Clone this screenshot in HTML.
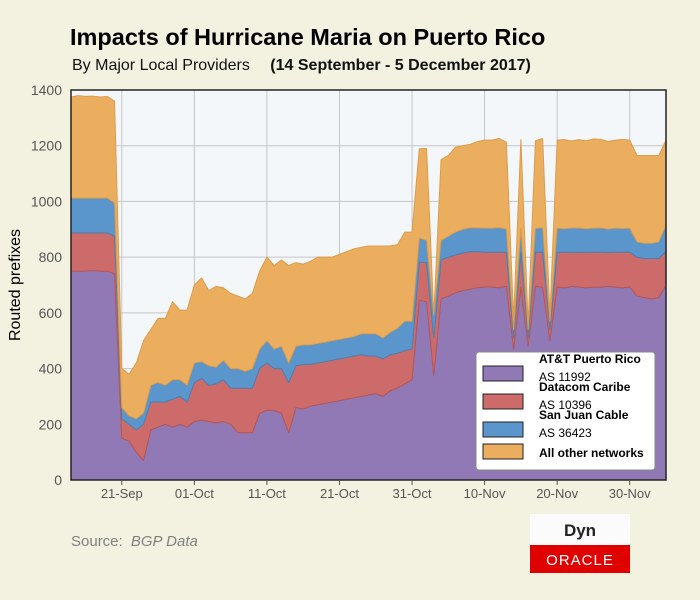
<!DOCTYPE html>
<html><head><meta charset="utf-8">
<style>
body{margin:0;background:#f3f1e0;}
#wrap{position:relative;width:700px;height:600px;background:#f3f1e0;font-family:"Liberation Sans",sans-serif;overflow:hidden}
svg text{font-family:"Liberation Sans",sans-serif}
</style></head>
<body>
<div id="wrap">
<svg id="chart" width="700" height="600">
<text x="70" y="45" font-size="23.5" font-weight="bold" fill="#000">Impacts of Hurricane Maria on Puerto Rico</text>
<text x="72" y="70" font-size="16" fill="#111">By Major Local Providers <tspan dx="16" font-weight="bold">(14 September - 5 December 2017)</tspan></text>
<rect x="71" y="90" width="595" height="390" fill="#f3f7fa"/>
<g id="grid"></g>
<g id="areas"></g>
<rect x="71" y="90" width="595" height="390" fill="none" stroke="#222" stroke-width="1.5"/>
<g id="yticks"></g>
<g id="xticks"></g>
<text transform="translate(20,285) rotate(-90)" text-anchor="middle" font-size="16" fill="#000">Routed prefixes</text>
<g>
<rect x="476" y="352" width="179" height="118" rx="3" fill="#fff" stroke="#888"/>
<g>
<rect x="483" y="366" width="40" height="15" fill="#9179b5" stroke="#222"/>
<text x="539" y="363" font-size="12" font-weight="bold">AT&amp;T Puerto Rico</text>
<text x="539" y="381" font-size="12">AS 11992</text></g>
<g>
<rect x="483" y="394" width="40" height="15" fill="#cd6b6b" stroke="#222"/>
<text x="539" y="391" font-size="12" font-weight="bold">Datacom Caribe</text>
<text x="539" y="409" font-size="12">AS 10396</text></g>
<g>
<rect x="483" y="422" width="40" height="15" fill="#5a96cb" stroke="#222"/>
<text x="539" y="419" font-size="12" font-weight="bold">San Juan Cable</text>
<text x="539" y="437" font-size="12">AS 36423</text></g>
<g>
<rect x="483" y="444" width="40" height="15" fill="#ebae5e" stroke="#222"/>
<text x="539" y="457" font-size="12" font-weight="bold">All other networks</text></g>
</g>
<text x="71" y="546" font-size="15" fill="#808080">Source: <tspan dx="4" font-style="italic">BGP Data</tspan></text>
<g>
<rect x="530" y="514" width="100" height="31" fill="#fbfbfb"/>
<text x="580" y="536" font-size="17" font-weight="bold" text-anchor="middle" fill="#222">Dyn</text>
<rect x="530" y="545" width="100" height="28" fill="#e00000"/>
<text x="580" y="565" font-size="15" text-anchor="middle" fill="#fff" letter-spacing="1">ORACLE</text>
</g>
</svg>
</div>
<script>
// daily values, day 0 = 14 Sep 2017
const att = [750,750,750,752,750,750,740,150,140,100,70,180,190,200,190,200,190,210,215,210,205,210,200,170,170,170,240,250,250,240,170,260,255,265,270,275,280,285,290,295,300,305,310,300,320,330,345,360,645,640,376,650,660,673,680,685,690,693,693,690,695,470,693,480,695,692,500,693,690,695,693,690,693,692,695,693,690,693,660,655,650,655,700];
const datacom = [137,137,137,135,137,137,135,70,60,80,130,100,90,80,100,100,90,140,150,130,140,150,130,160,160,160,160,170,150,160,180,150,160,150,150,150,150,150,150,150,150,140,135,135,130,125,120,110,137,140,134,140,140,135,135,135,130,125,125,128,122,40,125,30,123,126,40,125,128,122,125,127,125,126,122,125,128,125,140,140,145,140,120];
const sjc = [125,125,125,125,125,125,120,40,30,40,40,60,70,60,70,60,60,70,60,70,60,70,70,70,60,70,70,80,70,80,70,70,70,70,70,70,70,70,70,70,75,80,80,75,80,90,105,100,87,80,82,70,75,82,85,85,85,86,86,88,84,30,86,30,85,88,30,86,84,88,86,85,86,87,84,86,85,86,55,55,55,60,95];
const other = [363,368,365,366,363,365,365,140,150,200,260,200,230,240,280,250,270,280,300,270,290,260,270,260,260,270,280,300,300,310,350,300,290,300,310,305,300,305,310,315,310,315,315,330,310,300,320,320,320,330,0,290,290,305,300,300,310,316,316,320,312,40,318,20,315,320,20,316,320,312,318,316,320,318,314,316,320,316,310,315,315,310,305];
const xTickLabels = ["21-Sep","01-Oct","11-Oct","21-Oct","31-Oct","10-Nov","20-Nov","30-Nov"];
const xTickDays = [7,17,27,37,47,57,67,77];
const yTicks = [0,200,400,600,800,1000,1200,1400];

const X0=71,X1=666,Y0=480,Y1=90,DMAX=82,VMAX=1400;
const xs = d => X0 + d*(X1-X0)/DMAX;
const ys = v => Y0 - v*(Y0-Y1)/VMAX;
const NS='http://www.w3.org/2000/svg';
function mk(tag, attrs, parent){const e=document.createElementNS(NS,tag);for(const k in attrs)e.setAttribute(k,attrs[k]);parent.appendChild(e);return e;}

const grid=document.getElementById('grid'), yg=document.getElementById('yticks'), xg=document.getElementById('xticks');
yTicks.forEach(v=>{
  const l=mk('line',{x1:X0,x2:X1,y1:ys(v),y2:ys(v),stroke:'#c4c6c8','stroke-width':1},grid);
  
  
  const t=mk('text',{x:62,y:ys(v)+5,'text-anchor':'end','font-size':14,fill:'#555'},yg);
  t.textContent=v;
  
  
});
xTickDays.forEach((d,i)=>{
  const l=mk('line',{x1:xs(d),x2:xs(d),y1:Y0,y2:Y1,stroke:'#c4c6c8','stroke-width':1},grid);
  
  
  const tk=mk('line',{x1:xs(d),x2:xs(d),y1:Y0,y2:Y0+5,stroke:'#555'},xg);
  
  
  const t=mk('text',{x:xs(d),y:498,'text-anchor':'middle','font-size':13,fill:'#555'},xg);
  t.textContent=xTickLabels[i];
  
  
});

const series=[[att,'#9179b5','#7c64a3','area-att'],[datacom,'#cd6b6b','#b85656','area-datacom'],[sjc,'#5a96cb','#4a80b3','area-sjc'],[other,'#ebae5e','#dc9c4c','area-other']];
const areas=document.getElementById('areas');
let base=att.map(()=>0);
series.forEach(([vals,fill,stroke,name])=>{
  const top=vals.map((v,i)=>base[i]+v);
  let d='M'+xs(0)+','+ys(top[0]);
  for(let i=1;i<top.length;i++) d+='L'+xs(i).toFixed(2)+','+ys(top[i]).toFixed(2);
  for(let i=top.length-1;i>=0;i--) d+='L'+xs(i).toFixed(2)+','+ys(base[i]).toFixed(2);
  d+='Z';
  const p=mk('path',{d:d,fill:fill,stroke:stroke,'stroke-width':1,'stroke-linejoin':'round'},areas);
  
  
  base=top;
});
</script>
</body></html>
